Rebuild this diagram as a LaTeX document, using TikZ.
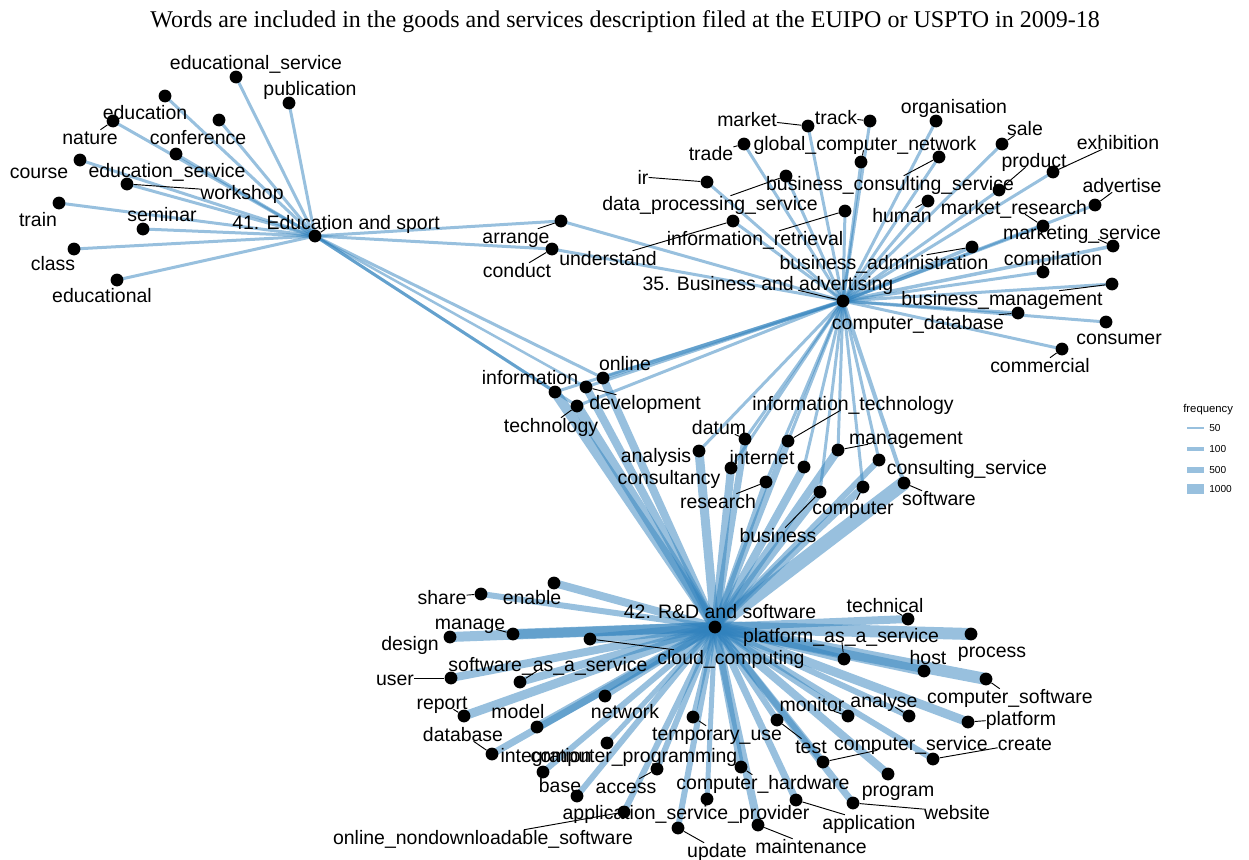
\documentclass[tikz,border=0pt]{standalone}
\usepackage{fontspec}
\setmainfont{Liberation Sans}
\newfontfamily\titlefont{Liberation Serif}
\usetikzlibrary{backgrounds}
\definecolor{edgeblue}{RGB}{49,130,189}
\newcommand\mkdot[3]{\node[dot] (#1) at (#2,#3) {};}
\newcommand\mklab[4]{\node[lab] (l-#1) at (#2,#3) {#4};}
\tikzset{
  dot/.style={circle, fill=black, inner sep=0pt, minimum size=9.6pt},
  lab/.style={inner sep=0pt, text height=10.5pt, text depth=0pt, font=\fontsize{14.6}{17}\selectfont, anchor=center},
  lnk/.style={draw=edgeblue, draw opacity=0.5},
  lw/.style={line width=#1*0.75pt},
  leader/.style={draw=black, line width=0.7pt},
  legtxt/.style={inner sep=0pt, anchor=west, font=\fontsize{7.6}{9}\selectfont}
}
\begin{document}
\begin{tikzpicture}[x=0.75pt,y=-0.75pt]
\useasboundingbox (0,0) rectangle (1249,860);
\node[anchor=base, inner sep=0pt, font=\titlefont\fontsize{18}{21}\selectfont] (title) at (625,27) {Words are included in the goods and services description filed at the EUIPO or USPTO in 2009-18};

% hubs
\mkdot{H41}{315}{236} \mklab{H41}{336}{222}{41. Education and sport}
\mkdot{H35}{843}{301} \mklab{H35}{768}{283}{35. Business and advertising}
\mkdot{H42}{715}{627} \mklab{H42}{720}{611}{42. R\&D and software}

% education
\mkdot{edsvc}{236}{77} \mklab{edsvc}{256}{62}{educational\_service}
\mkdot{publ}{289}{103} \mklab{publ}{310}{88}{publication}
\mkdot{educ}{165}{96} \mklab{educ}{145}{112}{education}
\mkdot{nature}{113}{121} \mklab{nature}{90}{137}{nature}
\mkdot{conf}{219}{120} \mklab{conf}{198}{137}{conference}
\mkdot{edusvc}{176}{154} \mklab{edusvc}{167}{170}{education\_service}
\mkdot{course}{80}{160} \mklab{course}{39}{171}{course}
\mkdot{workshop}{127}{184} \mklab{workshop}{242}{192}{workshop}
\mkdot{train}{59}{203} \mklab{train}{38}{219}{train}
\mkdot{seminar}{143}{229} \mklab{seminar}{162}{214}{seminar}
\mkdot{class}{74}{249} \mklab{class}{53}{263}{class}
\mkdot{edl}{117}{280} \mklab{edl}{102}{295}{educational}
\mkdot{arrange}{561}{221} \mklab{arrange}{516}{236}{arrange}
\mkdot{conduct}{552}{249} \mklab{conduct}{517}{270}{conduct}

% business
\mkdot{market}{808}{126} \mklab{market}{747}{119}{market}
\mkdot{track}{870}{121} \mklab{track}{836}{117}{track}
\mkdot{trade}{744}{144} \mklab{trade}{711}{153}{trade}
\mkdot{gcn}{861}{162} \mklab{gcn}{865}{143}{global\_computer\_network}
\mkdot{organisation}{936}{121} \mklab{organisation}{954}{106}{organisation}
\mkdot{sale}{1002}{144} \mklab{sale}{1025}{128}{sale}
\mkdot{exhibition}{1053}{172} \mklab{exhibition}{1118}{142}{exhibition}
\mkdot{product}{999}{190} \mklab{product}{1034}{160}{product}
\mkdot{bcs}{939}{157} \mklab{bcs}{890}{183}{business\_consulting\_service}
\mkdot{dps}{786}{176} \mklab{dps}{710}{203}{data\_processing\_service}
\mkdot{ir}{707}{182} \mklab{ir}{643}{177}{ir}
\mkdot{human}{928}{201} \mklab{human}{902}{215}{human}
\mkdot{advertise}{1095}{205} \mklab{advertise}{1122}{185}{advertise}
\mkdot{mres}{1043}{226} \mklab{mres}{1014}{207}{market\_research}
\mkdot{msvc}{1113}{246} \mklab{msvc}{1082}{232}{marketing\_service}
\mkdot{badm}{972}{247} \mklab{badm}{884}{262}{business\_administration}
\mkdot{compilation}{1043}{272} \mklab{compilation}{1053}{258}{compilation}
\mkdot{bman}{1112}{284} \mklab{bman}{1002}{298}{business\_management}
\mkdot{cdb}{1018}{313} \mklab{cdb}{918}{322}{computer\_database}
\mkdot{consumer}{1106}{322} \mklab{consumer}{1119}{337}{consumer}
\mkdot{commercial}{1062}{349} \mklab{commercial}{1040}{365}{commercial}
\mkdot{iret}{845}{211} \mklab{iret}{755}{238}{information\_retrieval}
\mkdot{understand}{733}{221} \mklab{understand}{608}{258}{understand}

% middle
\mkdot{online}{603}{378} \mklab{online}{625}{363}{online}
\mkdot{information}{555}{392} \mklab{information}{530}{377}{information}
\mkdot{development}{586}{387} \mklab{development}{645}{402}{development}
\mkdot{technology}{577}{406} \mklab{technology}{551}{425}{technology}
\mkdot{analysis}{699}{451} \mklab{analysis}{656}{455}{analysis}
\mkdot{datum}{745}{439} \mklab{datum}{719}{427}{datum}
\mkdot{consultancy}{731}{468} \mklab{consultancy}{669}{477}{consultancy}
\mkdot{internet}{804}{467} \mklab{internet}{762}{457}{internet}
\mkdot{research}{766}{482} \mklab{research}{718}{501}{research}
\mkdot{itech}{788}{441} \mklab{itech}{853}{403}{information\_technology}
\mkdot{management}{838}{450} \mklab{management}{906}{437}{management}
\mkdot{cserv}{879}{460} \mklab{cserv}{967}{467}{consulting\_service}
\mkdot{business}{820}{492} \mklab{business}{778}{535}{business}
\mkdot{computer}{863}{487} \mklab{computer}{853}{507}{computer}
\mkdot{software}{904}{483} \mklab{software}{939}{498}{software}

% R&D
\mkdot{enable}{554}{583} \mklab{enable}{532}{597}{enable}
\mkdot{share}{481}{594} \mklab{share}{442}{597}{share}
\mkdot{manage}{513}{634} \mklab{manage}{470}{622}{manage}
\mkdot{design}{450}{637} \mklab{design}{410}{643}{design}
\mkdot{cloud}{590}{639} \mklab{cloud}{731}{657}{cloud\_computing}
\mkdot{saas}{520}{682} \mklab{saas}{548}{664}{software\_as\_a\_service}
\mkdot{user}{451}{678} \mklab{user}{395}{678}{user}
\mkdot{network}{605}{696} \mklab{network}{625}{711}{network}
\mkdot{report}{464}{716} \mklab{report}{442}{702}{report}
\mkdot{model}{537}{727} \mklab{model}{518}{711}{model}
\mkdot{database}{492}{754} \mklab{database}{463}{734}{database}
\mkdot{integration}{577}{796} \mklab{integration}{546}{755}{integration}
\mkdot{cprog}{607}{743} \mklab{cprog}{634}{755}{computer\_programming}
\mkdot{base}{543}{772} \mklab{base}{560}{785}{base}
\mkdot{access}{657}{769} \mklab{access}{626}{786}{access}
\mkdot{asp}{707}{799} \mklab{asp}{686}{812}{application\_service\_provider}
\mkdot{onds}{624}{812} \mklab{onds}{483}{837}{online\_nondownloadable\_software}
\mkdot{update}{678}{828} \mklab{update}{717}{850}{update}
\mkdot{tempuse}{693}{717} \mklab{tempuse}{717}{733}{temporary\_use}
\mkdot{chw}{741}{767} \mklab{chw}{763}{782}{computer\_hardware}
\mkdot{maintenance}{758}{825} \mklab{maintenance}{811}{846}{maintenance}
\mkdot{technical}{908}{619} \mklab{technical}{885}{605}{technical}
\mkdot{process}{971}{634} \mklab{process}{992}{650}{process}
\mkdot{paas}{844}{659} \mklab{paas}{841}{635}{platform\_as\_a\_service}
\mkdot{host}{924}{671} \mklab{host}{928}{657}{host}
\mkdot{csoft}{986}{679} \mklab{csoft}{1010}{696}{computer\_software}
\mkdot{monitor}{848}{716} \mklab{monitor}{812}{704}{monitor}
\mkdot{analyse}{909}{716} \mklab{analyse}{884}{700}{analyse}
\mkdot{platform}{968}{722} \mklab{platform}{1021}{718}{platform}
\mkdot{test}{777}{720} \mklab{test}{811}{746}{test}
\mkdot{csvc}{823}{762} \mklab{csvc}{911}{743}{computer\_service}
\mkdot{create}{933}{759} \mklab{create}{1025}{743}{create}
\mkdot{program}{888}{774} \mklab{program}{898}{789}{program}
\mkdot{website}{853}{803} \mklab{website}{957}{812}{website}
\mkdot{application}{796}{800} \mklab{application}{869}{822}{application}

% edges
\begin{scope}[on background layer]
\foreach \n/\t in {edsvc/3,publ/3,educ/3,nature/3,conf/3,edusvc/3,course/3,workshop/3,train/3,seminar/3,class/3,edl/3,arrange/3,conduct/3,information/3,technology/3,development/2.5,online/3}
  \draw[lnk, lw=\t] (H41.center) -- (\n.center);
\foreach \n/\t in {market/3,track/3,trade/3,gcn/3,organisation/3,sale/3,exhibition/3,product/3,bcs/3,dps/3,ir/3,human/3,advertise/3,mres/3,msvc/3.5,badm/3.5,compilation/3,bman/3,cdb/3,consumer/3,commercial/3,iret/3,understand/3,arrange/3,conduct/3,online/4,information/3,development/3,technology/3,analysis/3,datum/3,consultancy/3,internet/3,research/3,itech/3,management/3,cserv/3,business/3,computer/3,software/4}
  \draw[lnk, lw=\t] (H35.center) -- (\n.center);
\foreach \n/\t in {information/10,technology/10,development/8,online/8,analysis/9,datum/7,consultancy/8,internet/8,research/6,itech/7,management/8,cserv/6,business/8,computer/7,software/14,enable/8,share/6,manage/10,design/10,cloud/10,saas/8,user/8,network/6,report/9,model/9,database/7,integration/6,cprog/5,base/6,access/6,asp/5,onds/6,update/6,tempuse/5,chw/7,maintenance/8,technical/8,process/12,paas/8,host/10,csoft/12,monitor/6,analyse/6,platform/9,test/6,csvc/7,create/6,program/8,website/7,application/7}
  \draw[lnk, lw=\t] (H42.center) -- (\n.center);
\end{scope}

% leaders
\foreach \n in {H41,H35,nature,workshop,arrange,conduct,market,track,trade,gcn,sale,exhibition,product,bcs,dps,ir,human,advertise,mres,msvc,badm,bman,cdb,commercial,iret,understand,development,technology,datum,research,itech,management,business,computer,software,share,manage,cloud,saas,user,report,database,access,onds,update,tempuse,chw,maintenance,technical,paas,csoft,monitor,analyse,platform,test,csvc,create,website,application}
  \draw[leader] (l-\n) -- (\n);

% legend
\node[anchor=west, inner sep=0pt, font=\fontsize{8.5}{10}\selectfont] (legt) at (1183,410) {frequency};
\coordinate (a50) at (1187,428); \coordinate (b50) at (1204,428);
\coordinate (a100) at (1187,449); \coordinate (b100) at (1204,449);
\coordinate (a500) at (1187,470); \coordinate (b500) at (1204,470);
\coordinate (a1000) at (1187,489); \coordinate (b1000) at (1204,489);
\draw[lnk, lw=1.7] (a50) -- (b50);
\draw[lnk, lw=3.3] (a100) -- (b100);
\draw[lnk, lw=6.7] (a500) -- (b500);
\draw[lnk, lw=10.7] (a1000) -- (b1000);
\node[legtxt] (t50) at (1209,428) {50};
\node[legtxt] (t100) at (1209,449) {100};
\node[legtxt] (t500) at (1209,470) {500};
\node[legtxt] (t1000) at (1209,489) {1000};
\end{tikzpicture}
\end{document}
